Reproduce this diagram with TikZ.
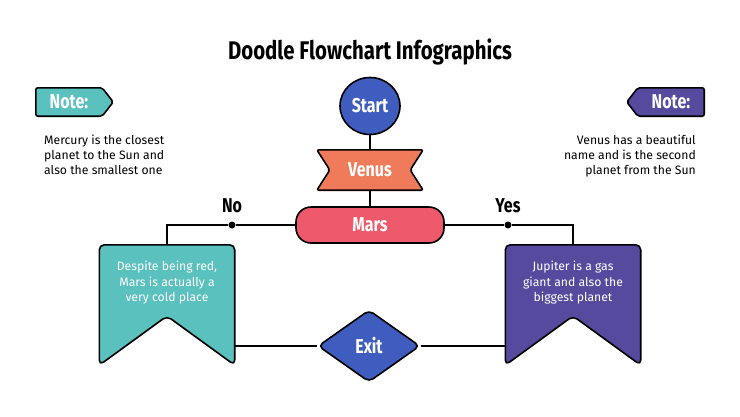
\documentclass[tikz,border=0pt]{standalone}
\usepackage{fontspec}
\setmainfont{Fira Sans}
\newfontfamily\headfont[FakeStretch=0.8]{Fira Sans}
\usetikzlibrary{shapes.geometric,backgrounds}

\definecolor{noteteal}{HTML}{5BC1BE}
\definecolor{notepurple}{HTML}{564A9E}
\definecolor{flowblue}{HTML}{3E5DBF}
\definecolor{venusorange}{HTML}{EF7B5B}
\definecolor{marsred}{HTML}{EE5A6B}

\begin{document}
\begin{tikzpicture}[
        x=1pt, y=-1pt,
        outline/.style={draw=black, line width=1.6pt, line join=round, rounded corners=5pt},
        link/.style={draw=black, line width=1.1pt},
        head/.style={font=\headfont\bfseries\fontsize{20}{22}\selectfont, text=white},
        answer/.style={font=\headfont\bfseries\fontsize{20}{22}\selectfont, inner sep=0pt},
        body/.style={font=\fontsize{12.2}{15}\selectfont, inner sep=0pt},
        boxtext/.style={font=\fontsize{12.2}{15.5}\selectfont, text=white, align=center, inner sep=0pt},
        frame/.style={inner sep=0pt, minimum width=135pt, minimum height=120pt},
        dot/.style={circle, fill=black, inner sep=0pt, minimum size=7pt}
    ]
        \useasboundingbox (0,0) rectangle (740,416);

        % Titulo
        \node[font=\headfont\bfseries\fontsize{25.5}{27}\selectfont] (title) at (370,52) {Doodle Flowchart Infographics};

        % Notas
        \node[head, inner sep=0pt, minimum width=66pt, minimum height=28pt] (lnote) at (69,102) {Note:};
        \node[head, inner sep=0pt, minimum width=66pt, minimum height=28pt] (rnote) at (671,102) {Note:};
        \begin{scope}[on background layer]
            \draw[outline, fill=noteteal, rounded corners=2pt]
                (lnote.north west) -- (lnote.north east) -- ([xshift=11pt]lnote.east)
                -- (lnote.south east) -- (lnote.south west) -- cycle;
            \draw[outline, fill=notepurple, rounded corners=2pt]
                (rnote.north east) -- (rnote.north west) -- ([xshift=-11pt]rnote.west)
                -- (rnote.south west) -- (rnote.south east) -- cycle;
        \end{scope}

        \node[body, anchor=north west, align=left] (ltext) at (44,135)
            {Mercury is the closest\\planet to the Sun and\\also the smallest one};
        \node[body, anchor=north east, align=right] (rtext) at (696,135)
            {Venus has a beautiful\\name and is the second\\planet from the Sun};

        % Nodos del flujo
        \node[ellipse, outline, fill=flowblue, minimum width=60pt, minimum height=57pt, inner sep=0pt, head] (start) at (370,106) {Start};
        \node[head, inner sep=0pt, minimum width=106pt, minimum height=40pt] (venus) at (370,170) {Venus};
        \node[outline, rounded corners=15pt, fill=marsred, minimum width=148pt, minimum height=36pt, inner sep=0pt, head] (mars) at (370,225) {Mars};
        \node[diamond, outline, fill=flowblue, minimum width=102pt, minimum height=72pt, inner sep=0pt, head] (exit) at (369,346) {Exit};

        % Cajas
        \node[frame] (nobox) at (167,305) {};
        \node[frame] (yesbox) at (573,305) {};
        \node[boxtext] (notext) at ([yshift=22pt]nobox.center) {Despite being red,\\Mars is actually a\\very cold place};
        \node[boxtext] (yestext) at ([yshift=22pt]yesbox.center) {Jupiter is a gas\\giant and also the\\biggest planet};

        \begin{scope}[on background layer]
            \draw[outline, fill=venusorange, rounded corners=2pt]
                (venus.north west) -- (venus.north east) -- ([xshift=-13pt]venus.east)
                -- (venus.south east) -- (venus.south west) -- ([xshift=13pt]venus.west) -- cycle;
            \draw[outline, fill=noteteal]
                (nobox.north west) -- (nobox.north east) -- (nobox.south east)
                -- ([yshift=-11pt]nobox.center) -- (nobox.south west) -- cycle;
            \draw[outline, fill=notepurple]
                (yesbox.north west) -- (yesbox.north east) -- (yesbox.south east)
                -- ([yshift=-11pt]yesbox.center) -- (yesbox.south west) -- cycle;
        \end{scope}

        % Conectores
        \draw[link] (start.south) -- (venus.north);
        \draw[link] (venus.south) -- (mars.north);

        \node[dot] (nodot) at (232,225) {};
        \node[dot] (yesdot) at (508,225) {};
        \draw[link] (mars.west) -- (nodot) -| (nobox.north);
        \draw[link] (mars.east) -- (yesdot) -| (yesbox.north);

        \node[answer, anchor=base, yshift=9pt] (no) at (nodot.north) {No};
        \node[answer, anchor=base, yshift=9pt] (yes) at (yesdot.north) {Yes};

        \draw[link] (exit.west) -- (exit.west -| nobox.east);
        \draw[link] (exit.east) -- (exit.east -| yesbox.west);

    \end{tikzpicture}
\end{document}
